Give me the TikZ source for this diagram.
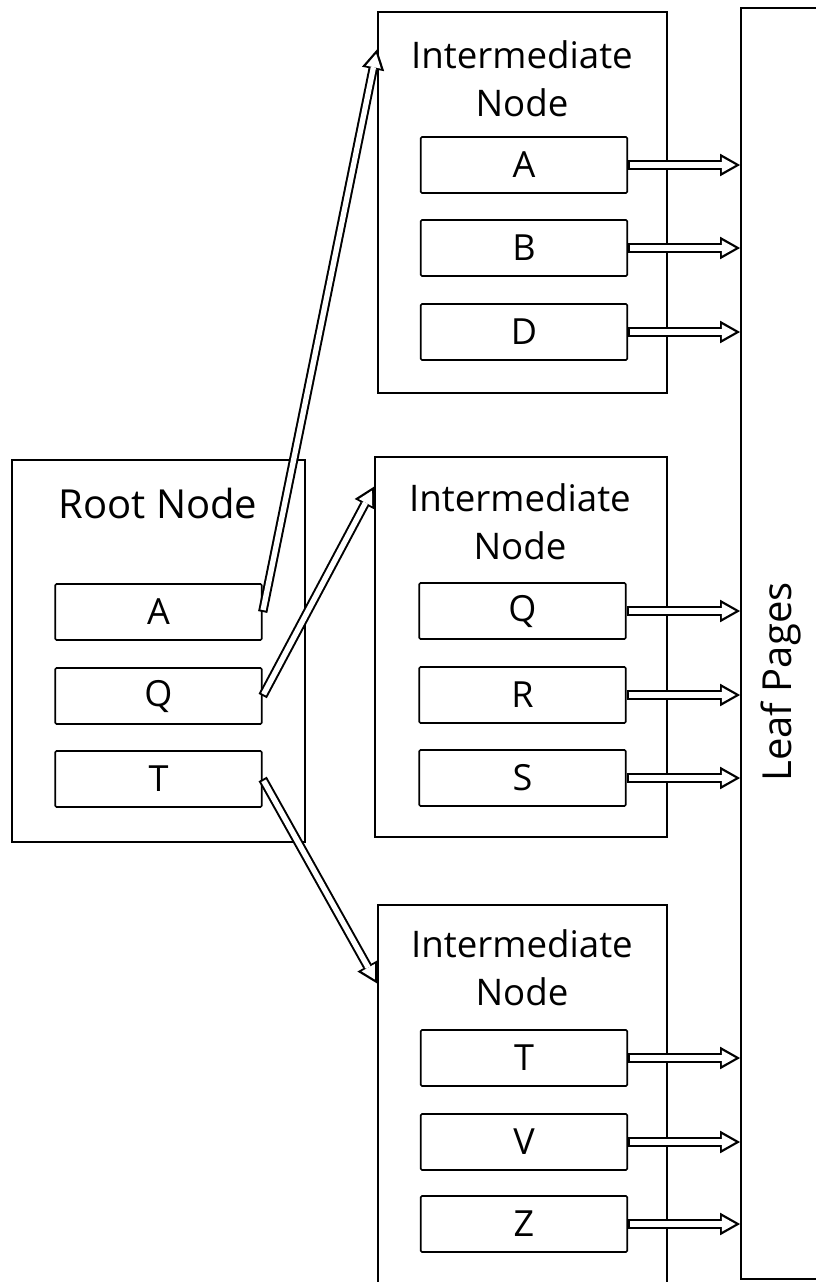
\documentclass[tikz,border=0pt]{standalone}
\usepackage{fontspec}
\setmainfont{Open Sans}
\usetikzlibrary{arrows.meta,calc,positioning}
\tikzset{box/.style={draw,line width=1.4pt,inner sep=0pt},
  key/.style={draw,line width=1.3pt,rounded corners=1pt,minimum width=155pt,minimum height=42pt,inner sep=0pt,font=\fontsize{27}{30}\selectfont},
  title/.style={align=center,font=\fontsize{27.5}{36}\selectfont},
  ptr/.style={draw,line width=7pt,-{Triangle[length=15pt,width=17pt,line width=0pt]},
    postaction={draw=white,line width=4pt,shorten <=1.5pt,shorten >=3.4pt,-{Triangle[length=10.2pt,width=11.4pt,line width=0pt]}}}}
\begin{document}
\begin{tikzpicture}[x=0.75pt,y=-0.75pt]
    \useasboundingbox (0,0) rectangle (815,1282);
    % root
    \node[box,minimum width=219.75pt,minimum height=286.5pt] (root) at (158.5,651) {};
    \node[title,font=\fontsize{30}{36}\selectfont] (rt) at (158,503) {Root Node};
    \node[key] (rA) at (158.5,612) {A};
    \node[key] (rQ) at (158.5,696) {Q};
    \node[key] (rT) at (158.5,779) {T};
    % intermediate nodes
    \node[box,minimum width=216.75pt,minimum height=285.75pt] (i1) at (522.5,202.5) {};
    \node[title] (t1) at (522,79) {Intermediate\\Node};
    \node[key] (a1) at (524,165) {A};
    \node[key] (a2) at (524,248) {B};
    \node[key] (a3) at (524,332) {D};
    \node[box,minimum width=219pt,minimum height=285pt] (i2) at (521,647) {};
    \node[title] (t2) at (520,522) {Intermediate\\Node};
    \node[key] (b1) at (522.5,611) {Q};
    \node[key] (b2) at (522.5,695) {R};
    \node[key] (b3) at (522.5,778) {S};
    \node[box,minimum width=216.75pt,minimum height=296.25pt] (i3) at (522.5,1102.5) {};
    \node[title] (t3) at (522,968) {Intermediate\\Node};
    \node[key] (c1) at (524,1058) {T};
    \node[key] (c2) at (524,1142) {V};
    \node[key] (c3) at (524,1224) {Z};
    % leaf pages
    \node[box,minimum width=66.75pt,minimum height=953.25pt] (leaf) at (785.5,643.5) {};
    \node[title,rotate=90,font=\fontsize{30}{36}\selectfont] (lt) at (781,682) {Leaf Pages};
    % pointers
    \draw[ptr] (rA.east) -- ($(i1.north west)!0.1!(i1.south west)$);
    \draw[ptr] (rQ.east) -- ($(i2.north west)!0.08!(i2.south west)$);
    \draw[ptr] (rT.east) -- ($(i3.north west)!0.2!(i3.south west)$);
    \foreach \k in {a1,a2,a3,b1,b2,b3,c1,c2,c3}
      \draw[ptr] (\k.east) -- (\k.east -| leaf.west);
\end{tikzpicture}
\end{document}
